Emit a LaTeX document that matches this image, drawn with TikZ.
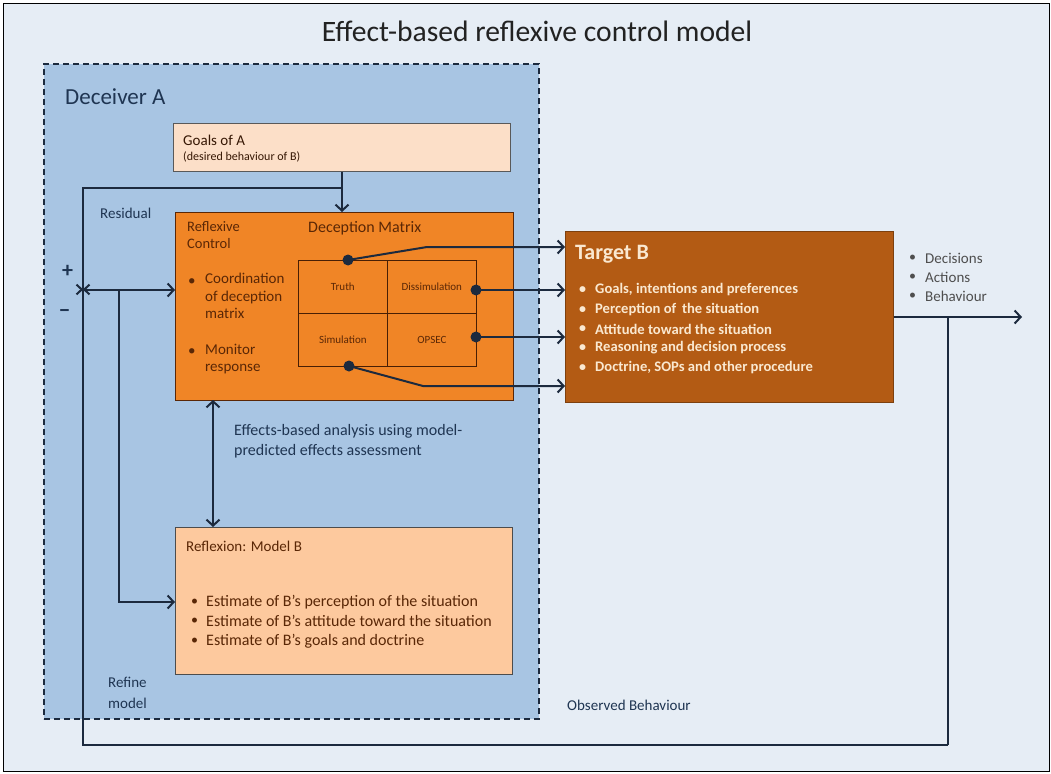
\documentclass[tikz,border=0pt]{standalone}
\usepackage{fontspec}
\setmainfont{Carlito}
\usetikzlibrary{arrows.meta,calc}
\definecolor{bgc}{HTML}{E6EDF5}
\definecolor{decc}{HTML}{A8C5E3}
\definecolor{goalc}{HTML}{FCDFC8}
\definecolor{reflc}{HTML}{F08526}
\definecolor{targc}{HTML}{B35B14}
\definecolor{modc}{HTML}{FDC99E}
\definecolor{linec}{HTML}{1C2A3E}
\definecolor{bluet}{HTML}{1F3552}
\definecolor{brownt}{HTML}{5A2706}
\definecolor{targt}{HTML}{FAE8D0}
\definecolor{titlec}{HTML}{222222}
\newcommand\fsz[2]{\fontsize{#1}{#2}\selectfont}
\begin{document}
\begin{tikzpicture}[x=1pt,y=-1pt,
  box/.style={draw=#1, line width=0.8pt, anchor=north west, inner sep=0pt},
  txt/.style={inner sep=0pt, anchor=west},
  cell/.style={draw=brownt!80!black, line width=0.7pt, minimum width=89pt, minimum height=53pt, inner sep=0pt, font=\fsz{11}{13}, text=brownt},
  dot/.style={circle, fill=linec, inner sep=0pt, minimum size=11pt},
  ln/.style={draw=linec, line width=2pt},
  arr/.style={ln, -{Straight Barb[length=6pt,width=13pt]}},
  darr/.style={ln, {Straight Barb[length=6pt,width=13pt]}-{Straight Barb[length=6pt,width=13pt]}}]
\useasboundingbox (0,0) rectangle (1051,773);
\fill[white] (0,0) rectangle (1051,773);
\node[box=black, fill=bgc, line width=1pt, minimum width=1046pt, minimum height=768pt] (frame) at (3,3) {};
\node[font=\fsz{29.6}{34}, text=titlec, inner sep=0pt] (title) at (537,31) {Effect-based reflexive control model};
% deceiver
\node[box=linec, fill=decc, line width=1.8pt, dash pattern=on 6pt off 4pt, minimum width=495pt, minimum height=655pt] (dec) at (43,63) {};
\node[txt, font=\fsz{23}{27}, text=bluet] (decl) at (65,97) {Deceiver A};
% goals
\node[box=gray!70!black, fill=goalc, minimum width=337pt, minimum height=48pt] (goals) at (173,123) {};
\node[txt, font=\fsz{15}{18}, text=brownt!60!black] (goalt) at (183,140) {Goals of A};
\node[txt, font=\fsz{12}{14}, text=brownt!60!black] (goals2) at (183,157) {(desired behaviour of B)};
% reflexive control
\node[box=brownt, fill=reflc, minimum width=338pt, minimum height=188pt] (refl) at (175,212) {};
\node[txt, anchor=north west, align=left, font=\fsz{14.5}{17}, text=brownt] (rc) at (187,221) {Reflexive\\Control};
\node[txt, font=\fsz{16}{19}, text=brownt] (dm) at (308,228) {Deception Matrix};
\node[txt, font=\fsz{15}{18}, text=brownt] (b1) at (188,282) {\textbullet};
\node[txt, anchor=north west, align=left, font=\fsz{15}{17.5}, text=brownt] (b1t) at (205,273) {Coordination\\of deception\\matrix};
\node[txt, font=\fsz{15}{18}, text=brownt] (b2) at (188,352) {\textbullet};
\node[txt, anchor=north west, align=left, font=\fsz{15}{17}, text=brownt] (b2t) at (205,344) {Monitor\\response};
\node[cell, anchor=north west] (truth) at (298,260) {Truth};
\node[cell, anchor=north west] (diss) at (387,260) {Dissimulation};
\node[cell, anchor=north west] (sim) at (298,313) {Simulation};
\node[cell, anchor=north west] (opsec) at (387,313) {OPSEC};
\node[dot] (d1) at (348,260) {};
\node[dot] (d2) at (476,290) {};
\node[dot] (d3) at (476,337) {};
\node[dot] (d4) at (349,366) {};
% target
\node[box=targc!70!black, fill=targc, minimum width=328pt, minimum height=171pt] (target) at (565,231) {};
\node[txt, font=\bfseries\fsz{22}{26}, text=targt] (tb) at (575,254) {Target B};
\foreach \y/\t [count=\i] in {290/{Goals, intentions and preferences},310/{Perception of\, the situation},329/{Attitude toward the situation},348/{Reasoning and decision process},368/{Doctrine, SOPs and other procedure}}{
  \node[txt, font=\bfseries\fsz{14}{17}, text=targt] (tbb\i) at (579,\y) {\textbullet};
  \node[txt, font=\bfseries\fsz{14.6}{17}, text=targt] (tbt\i) at (595,\y) {\t};
}
% outputs
\foreach \y/\t [count=\i] in {258/Decisions,277/Actions,296/Behaviour}{
  \node[txt, font=\fsz{14}{17}, text=titlec!80!white] (ob\i) at (909,\y) {\textbullet};
  \node[txt, font=\fsz{15}{18}, text=titlec!80!white] (ot\i) at (925,\y) {\t};
}
% model B
\node[box=gray!60!black, fill=modc, minimum width=337pt, minimum height=147pt] (model) at (175,527) {};
\node[txt, font=\fsz{15}{18}, text=brownt] (mt) at (186,546) {Reflexion: Model B};
\foreach \y/\t [count=\i] in {602/{Estimate of B's perception of the situation},621/{Estimate of B's attitude toward the situation},641/{Estimate of B's goals and doctrine}}{
  \node[txt, font=\fsz{14}{17}, text=brownt] (mb\i) at (191,\y) {\textbullet};
  \node[txt, font=\fsz{16}{19}, text=brownt] (mbt\i) at (206,\y) {\t};
}
% labels
\node[txt, font=\fsz{15}{18}, text=bluet] (res) at (100,213) {Residual};
\node[txt, font=\bfseries\fsz{22}{24}, text=bluet] (plus) at (62,271) {+};
\node[txt, font=\bfseries\fsz{22}{24}, text=bluet] (minus) at (59,314) {\textminus};
\node[txt, anchor=north west, align=left, font=\fsz{16}{20}, text=bluet] (eff) at (234,424) {Effects-based analysis using model-\\predicted effects assessment};
\node[txt, anchor=north west, align=left, font=\fsz{15}{21}, text=bluet] (ref) at (108,677) {Refine\\model};
\node[txt, font=\fsz{15}{18}, text=bluet] (obs) at (567,705) {Observed Behaviour};
% coordinates
\coordinate (sum) at (83,290);
\coordinate (br) at (342,188);
\coordinate (tap) at (948,317);
\coordinate (out) at (1022,317);
\coordinate (fb) at (83,745);
\coordinate (rf) at (119,290);
% connectors
\draw[arr] (goals.south -| br) -- (refl.north -| br);
\draw[arr] (br) -- (br -| sum) -- ([yshift=-2pt]sum);
\draw[arr] (sum) -- (sum -| refl.west);
\draw[arr] (tap |- fb) -- (fb) -- ([yshift=3pt]sum);
\draw[ln] (tap) -- (tap |- fb);
\draw[arr] (target.east |- out) -- (out);
\draw[arr] (rf) -- (rf |- mb1) -- (mb1.west -| model.west);
\draw[darr] (213,400) -- (213,527);
\draw[arr] (d1.center) -- (427,247) -- (target.west |- 0,247);
\draw[arr] (d2.center) -- (d2 -| target.west);
\draw[arr] (d3.center) -- (d3 -| target.west);
\draw[arr] (d4.center) -- (423,386) -- (target.west |- 0,386);
\end{tikzpicture}
\end{document}
